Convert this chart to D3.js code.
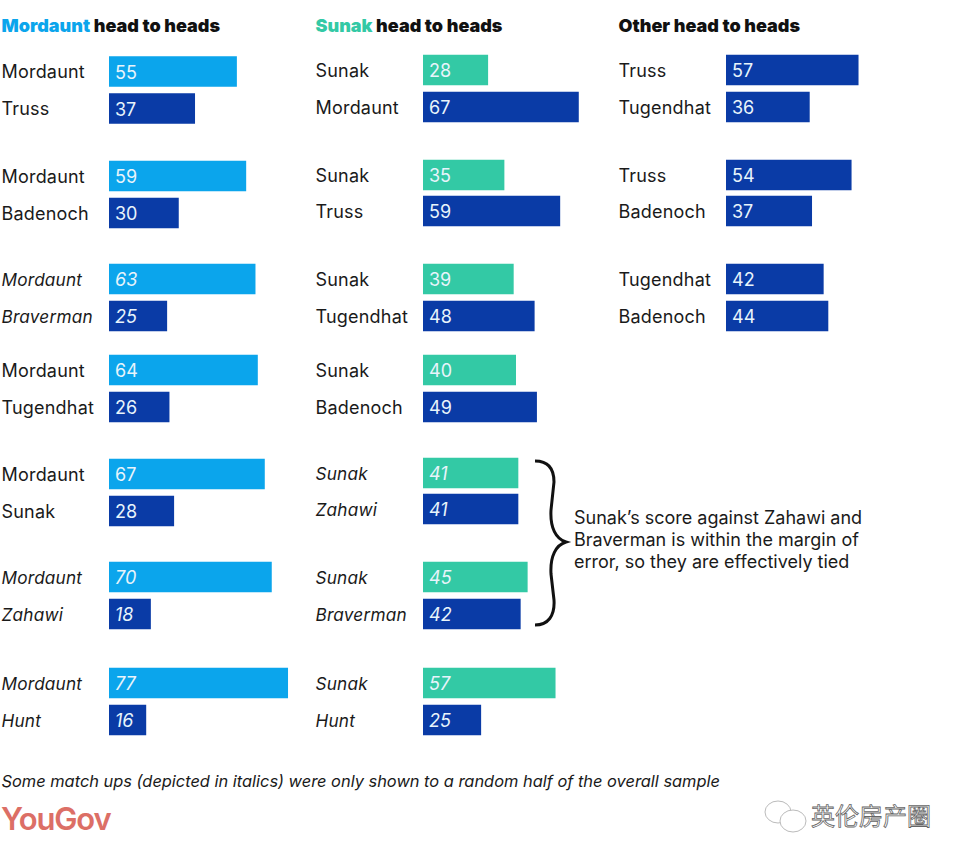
<!DOCTYPE html>
<html><head><meta charset="utf-8">
<script src="https://cdn.jsdelivr.net/npm/d3@7"></script>
<style>html,body{margin:0;padding:0;background:#fff}svg{display:block}text{font-family:Inter,sans-serif}</style>
</head><body><svg id="c" width="962" height="859"></svg>
<script>
const mordauntNames=[["Mordaunt","Truss"],["Mordaunt","Badenoch"],["Mordaunt","Braverman"],["Mordaunt","Tugendhat"],["Mordaunt","Sunak"],["Mordaunt","Zahawi"],["Mordaunt","Hunt"]];
const mordauntValues=[[55,37],[59,30],[63,25],[64,26],[67,28],[70,18],[77,16]];
const mordauntItalic=[false,false,true,false,false,true,true];
const sunakNames=[["Sunak","Mordaunt"],["Sunak","Truss"],["Sunak","Tugendhat"],["Sunak","Badenoch"],["Sunak","Zahawi"],["Sunak","Braverman"],["Sunak","Hunt"]];
const sunakValues=[[28,67],[35,59],[39,48],[40,49],[41,41],[45,42],[57,25]];
const sunakItalic=[false,false,false,false,true,true,true];
const otherNames=[["Truss","Tugendhat"],["Truss","Badenoch"],["Tugendhat","Badenoch"]];
const otherValues=[[57,36],[54,37],[42,44]];
const otherItalic=[false,false,false];
const noteLines=["Sunak’s score against Zahawi and","Braverman is within the margin of","error, so they are effectively tied"];
const footnote="Some match ups (depicted in italics) were only shown to a random half of the overall sample";

const LIGHT="#0ba5ec",TEAL="#33c9a5",DARK="#0a3ba6";
const svg=d3.select("#c");
const x=d3.scaleLinear().domain([0,100]).range([0,232.5]);
const groupIdx=d3.range(7);
const topRows=[71.5,176,279,370,474,577,683], botRows=[108.5,213,316,407,511,614,720];
const topRows2=[70,175,279,370,473,577,683], botRows2=[107,211,316,407,509,614,720];
const columns=[
 {names:mordauntNames,vals:mordauntValues,ital:mordauntItalic,lx:1.5,bx:109,first:LIGHT,top:topRows,bot:botRows},
 {names:sunakNames,vals:sunakValues,ital:sunakItalic,lx:315.5,bx:423,first:TEAL,top:topRows2,bot:botRows2},
 {names:otherNames,vals:otherValues,ital:otherItalic,lx:618.5,bx:726,first:DARK,top:topRows2,bot:botRows2}
];
columns.forEach(c=>{
 const yTop=d3.scaleOrdinal().domain(groupIdx).range(c.top);
 const yBot=d3.scaleOrdinal().domain(groupIdx).range(c.bot);
 const rows=c.vals.flatMap((v,i)=>[
  {n:c.names[i][0],v:v[0],it:c.ital[i],y:yTop(i),fill:c.first},
  {n:c.names[i][1],v:v[1],it:c.ital[i],y:yBot(i),fill:DARK}]);
 const g=svg.append("g");
 g.selectAll("rect").data(rows).join("rect")
  .attr("x",c.bx).attr("y",d=>d.y-15.25).attr("height",30.5)
  .attr("width",d=>x(d.v)).attr("fill",d=>d.fill);
 g.selectAll("text.n").data(rows).join("text").attr("class","n")
  .attr("x",c.lx).attr("y",d=>d.y+6.5).attr("font-size",d=>d.it?17.2:18).attr("letter-spacing",.2)
  .attr("font-style",d=>d.it?"italic":"normal").attr("fill","#1a1a1a").text(d=>d.n);
 g.selectAll("text.v").data(rows).join("text").attr("class","v")
  .attr("x",c.bx+6).attr("y",d=>d.y+7).attr("font-size",18)
  .attr("font-style",d=>d.it?"italic":"normal").attr("fill","#e8f4fb").text(d=>d.v);
});
function title(xp,coloured,col,rest){
 const t=svg.append("text").attr("x",xp).attr("y",32).attr("font-size",18).attr("font-weight",900);
 if(coloured) t.append("tspan").attr("fill",col).text(coloured+" ");
 t.append("tspan").attr("fill","#111").text(rest);
}
title(1.5,"Mordaunt",LIGHT,"head to heads");
title(315.5,"Sunak",TEAL,"head to heads");
title(618.5,"","", "Other head to heads");

svg.append("path").attr("fill","none").attr("stroke","#111").attr("stroke-width",3)
 .attr("d","M535,461 C548,461 554,468 554,482 L551,510 C550,528 556,539 566,542 C556,545 550,556 551,574 L554,600 C555,616 548,625 535,625");
svg.append("g").selectAll("text").data(noteLines).join("text")
 .attr("x",574).attr("y",(d,i)=>524+i*22).attr("font-size",18).attr("fill","#1a1a1a").text(d=>d);
svg.append("text").attr("x",1.5).attr("y",787).attr("font-size",16.4).attr("font-style","italic").attr("fill","#1a1a1a").text(footnote);
svg.append("text").attr("x",1).attr("y",830).attr("font-size",31).attr("font-weight",600).attr("letter-spacing",-1.2).attr("fill","#dc6f66").text("YouGov");

const wm=svg.append("g").attr("fill","none").attr("stroke","#bbb").attr("stroke-width",1);
wm.append("ellipse").attr("cx",778).attr("cy",812).attr("rx",13).attr("ry",11);
wm.append("ellipse").attr("cx",793).attr("cy",821).attr("rx",13).attr("ry",11).attr("fill","#fff");
svg.append("text").attr("x",811).attr("y",825).attr("font-size",24).attr("fill","#fff").attr("stroke","#666").attr("stroke-width",.8)
 .style("font-family","'Noto Sans CJK SC'").text("英伦房产圈");
</script></body></html>
